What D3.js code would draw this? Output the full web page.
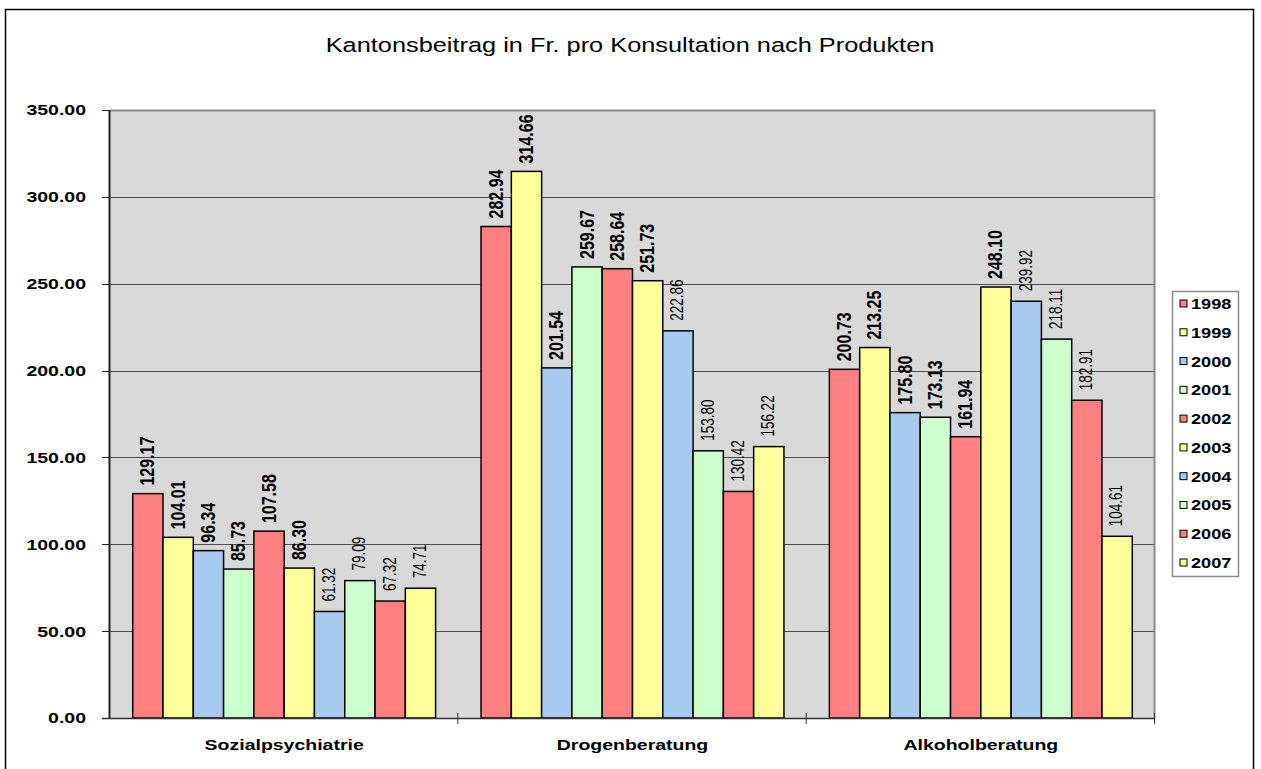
<!DOCTYPE html>
<html>
<head>
<meta charset="utf-8">
<script src="https://cdn.jsdelivr.net/npm/d3@7"></script>
<style>
  html, body { margin: 0; padding: 0; background: #fff; }
  svg { display: block; }
  text { font-family: "Liberation Sans", Arial, sans-serif; fill: #000; }
</style>
</head>
<body>
<svg id="chart" width="1261" height="769"></svg>
<script>
(function () {
  'use strict';

  const categories = ['Sozialpsychiatrie', 'Drogenberatung', 'Alkoholberatung'];
  const years = ['1998', '1999', '2000', '2001', '2002', '2003', '2004', '2005', '2006', '2007'];
  const sozialValues = [129.17, 104.01, 96.34, 85.73, 107.58, 86.30, 61.32, 79.09, 67.32, 74.71];
  const drogenValues = [282.94, 314.66, 201.54, 259.67, 258.64, 251.73, 222.86, 153.80, 130.42, 156.22];
  const alkoholValues = [200.73, 213.25, 175.80, 173.13, 161.94, 248.10, 239.92, 218.11, 182.91, 104.61];
  const yTicks = [0, 50, 100, 150, 200, 250, 300, 350];
  const yearColors = ['#ff8080', '#ffff99', '#a6caf0', '#ccffcc', '#ff8080', '#ffff99', '#a6caf0', '#ccffcc', '#ff8080', '#ffff99'];
  const boldYears = ['1998', '1999', '2000', '2001', '2002', '2003'];
  const title = 'Kantonsbeitrag in Fr. pro Konsultation nach Produkten';

  const valuesByCat = [sozialValues, drogenValues, alkoholValues];
  const rows = [];
  categories.forEach((c, ci) => {
    years.forEach((y, yi) => rows.push({ cat: c, year: y, value: valuesByCat[ci][yi], color: yearColors[yi] }));
  });

  const SX = 1.3; // glyphs in the picture are stretched sideways
  const svg = d3.select('#chart');
  const plot = { left: 110, right: 1155, top: 110, bottom: 718 };

  // outer frame
  svg.append('rect')
    .attr('x', 5.5).attr('y', 9.5).attr('width', 1248).attr('height', 800)
    .attr('fill', '#fff').attr('stroke', '#000').attr('stroke-width', 1.5);

  svg.append('text')
    .attr('transform', `translate(630,52) scale(${SX},1)`)
    .attr('text-anchor', 'middle')
    .attr('font-size', 19.5)
    .text(title);

  const x0 = d3.scaleBand().domain(categories).range([plot.left, plot.right]);
  const x1 = d3.scaleBand().domain(years).range([0, x0.bandwidth()]).paddingOuter(0.75);
  const y = d3.scaleLinear().domain([0, 350]).range([plot.bottom, plot.top]);

  // plot background
  svg.append('rect')
    .attr('x', plot.left).attr('y', plot.top)
    .attr('width', plot.right - plot.left).attr('height', plot.bottom - plot.top)
    .attr('fill', '#d9d9d9');

  // gridlines
  svg.append('g').selectAll('line')
    .data(yTicks.filter(t => t > 0 && t < 350))
    .join('line')
    .attr('x1', plot.left).attr('x2', plot.right)
    .attr('y1', d => Math.round(y(d)) + 0.5).attr('y2', d => Math.round(y(d)) + 0.5)
    .attr('stroke', '#4d4d4d').attr('stroke-width', 1);

  // plot border top/right
  svg.append('path')
    .attr('d', `M${plot.left},${plot.top + 0.5}H${plot.right - 0.5}V${plot.bottom}`)
    .attr('fill', 'none').attr('stroke', '#8c8c8c').attr('stroke-width', 2);

  // bars
  const fmt = d3.format('.2f');
  const barG = svg.append('g');
  barG.selectAll('rect')
    .data(rows)
    .join('rect')
    .attr('x', d => x0(d.cat) + x1(d.year))
    .attr('y', d => y(d.value))
    .attr('width', x1.bandwidth())
    .attr('height', d => y(0) - y(d.value))
    .attr('fill', d => d.color)
    .attr('stroke', '#000')
    .attr('stroke-width', 1.5);

  // value labels
  barG.selectAll('text')
    .data(rows)
    .join('text')
    .attr('transform', d => {
      const cx = x0(d.cat) + x1(d.year) + x1.bandwidth() / 2 - 1;
      const gap = boldYears.includes(d.year) ? 8 : 10;
      return `translate(${cx},${y(d.value) - gap}) scale(${SX},1) rotate(-90)`;
    })
    .attr('dy', '0.36em')
    .attr('font-size', d => boldYears.includes(d.year) ? 16 : 13.5)
    .attr('font-weight', d => boldYears.includes(d.year) ? 'bold' : 'normal')
    .text(d => fmt(d.value));

  // y axis
  const yAxis = svg.append('g');
  yAxis.append('line')
    .attr('x1', plot.left - 0.5).attr('x2', plot.left - 0.5)
    .attr('y1', plot.top).attr('y2', plot.bottom)
    .attr('stroke', '#222').attr('stroke-width', 2);
  yAxis.selectAll('line.tick')
    .data(yTicks)
    .join('line')
    .attr('class', 'tick')
    .attr('x1', plot.left - 8).attr('x2', plot.left)
    .attr('y1', d => Math.round(y(d)) + 0.5).attr('y2', d => Math.round(y(d)) + 0.5)
    .attr('stroke', '#222').attr('stroke-width', 1);
  yAxis.selectAll('text')
    .data(yTicks)
    .join('text')
    .attr('transform', d => `translate(86,${y(d)}) scale(${SX},1)`)
    .attr('text-anchor', 'end')
    .attr('dy', '0.36em')
    .attr('font-size', 15)
    .attr('font-weight', 'bold')
    .text(d => fmt(d));

  // x axis
  const xAxis = svg.append('g');
  xAxis.append('line')
    .attr('x1', plot.left - 8).attr('x2', plot.right)
    .attr('y1', plot.bottom + 0.5).attr('y2', plot.bottom + 0.5)
    .attr('stroke', '#333').attr('stroke-width', 1.5);
  const bounds = categories.map(c => x0(c)).concat([plot.right]);
  xAxis.selectAll('line.tick')
    .data(bounds.slice(1))
    .join('line')
    .attr('class', 'tick')
    .attr('x1', d => d - 0.5).attr('x2', d => d - 0.5)
    .attr('y1', plot.bottom - 5).attr('y2', plot.bottom + 6)
    .attr('stroke', '#333').attr('stroke-width', 1);
  xAxis.selectAll('text')
    .data(categories)
    .join('text')
    .attr('transform', d => `translate(${x0(d) + x0.bandwidth() / 2},750) scale(${SX},1)`)
    .attr('text-anchor', 'middle')
    .attr('font-size', 15)
    .attr('font-weight', 'bold')
    .text(d => d);

  // legend
  const legend = svg.append('g');
  legend.append('rect')
    .attr('x', 1172.5).attr('y', 291.5).attr('width', 66).attr('height', 285)
    .attr('fill', '#fff').attr('stroke', '#8c8c8c').attr('stroke-width', 1.5);
  const ly = d3.scalePoint().domain(years).range([304, 563]);
  const items = legend.selectAll('g.item')
    .data(years)
    .join('g')
    .attr('class', 'item')
    .attr('transform', d => `translate(0,${ly(d)})`);
  items.append('rect')
    .attr('x', 1180).attr('y', -4).attr('width', 7).attr('height', 7)
    .attr('fill', (d, i) => yearColors[i])
    .attr('stroke', '#000').attr('stroke-width', 1);
  items.append('text')
    .attr('transform', `translate(1191,0) scale(${SX},1)`)
    .attr('dy', '0.36em')
    .attr('font-size', 14)
    .attr('font-weight', 'bold')
    .text(d => d);
})();
</script>
</body>
</html>
